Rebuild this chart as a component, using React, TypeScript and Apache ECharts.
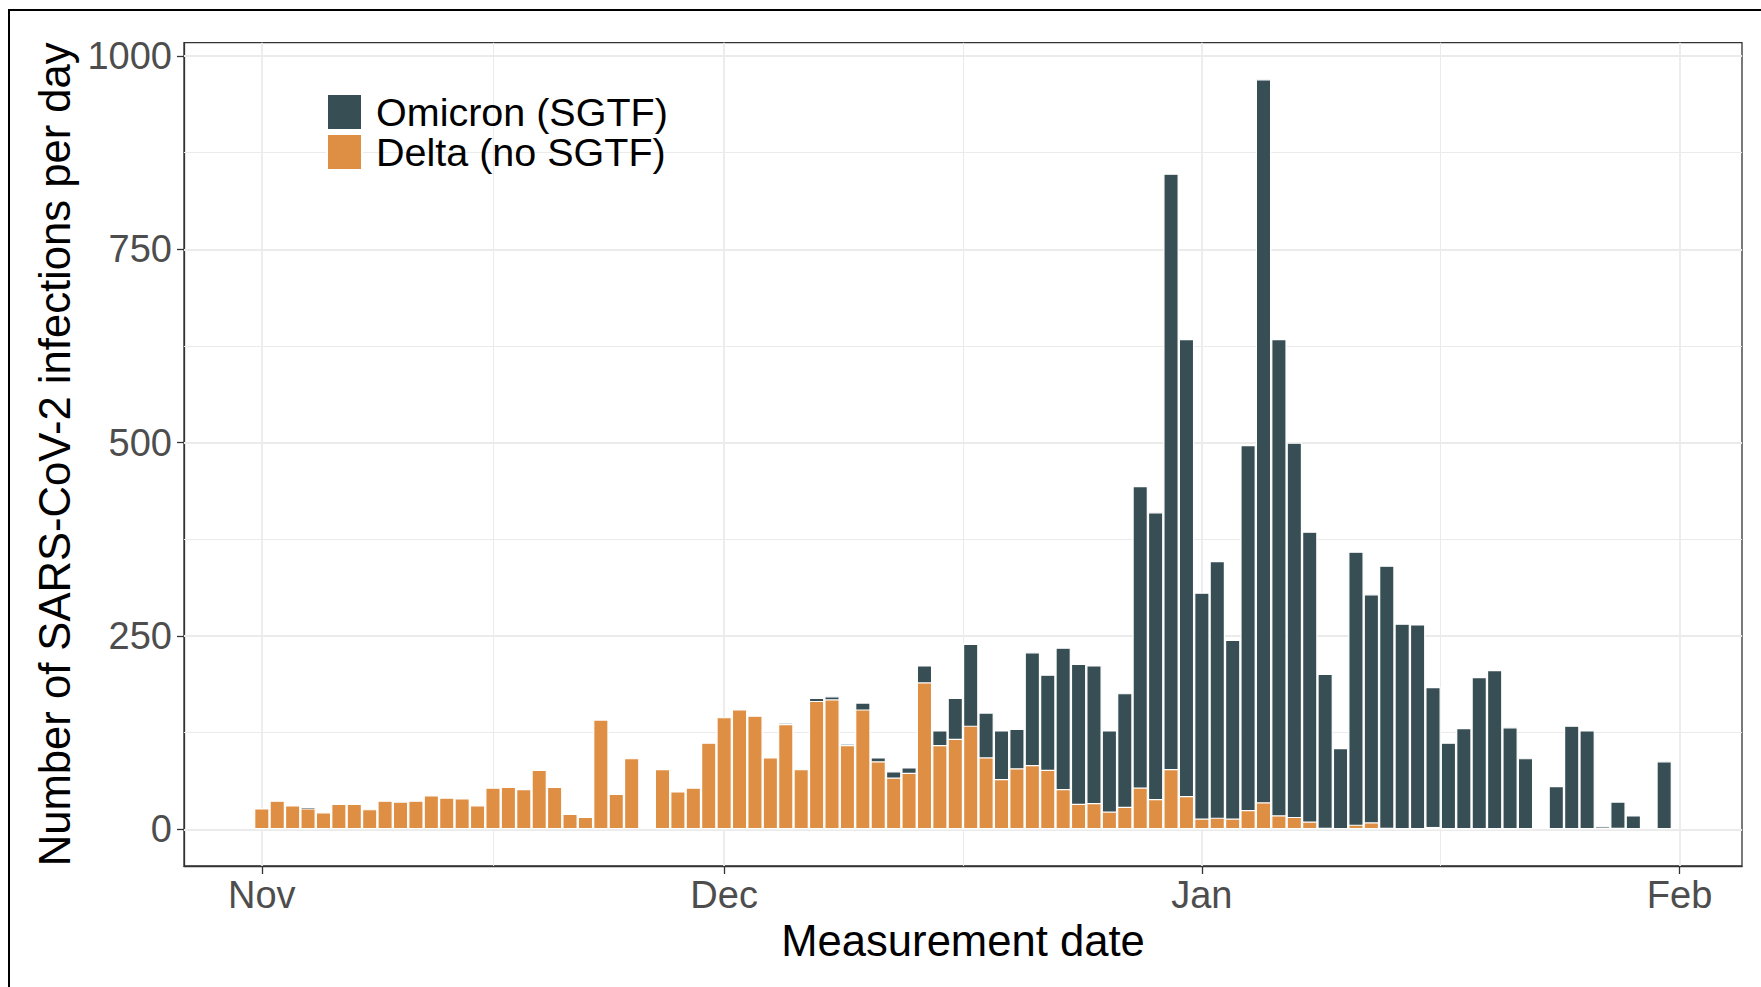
import React, { useEffect, useRef } from 'react';
import * as echarts from 'echarts';

// Measurement dates: day offsets from 2021-11-01 (Nov 1 .. Jan 31)
const START_DATE = '2021-11-01';

// Delta (no SGTF) infections per day
const deltaNov = [27, 37, 31, 27, 22, 33, 33, 26, 37, 36, 37, 44, 41, 40, 31, 54, 55, 52, 77, 55, 20, 16, 142, 46, 92, 0, 78, 49, 54, 112];
const deltaDec = [145, 155, 147, 93, 136, 78, 166, 168, 109, 155, 88, 67, 73, 190, 109, 117, 134, 93, 65, 79, 83, 77, 52, 33, 34, 23, 29, 54, 39, 78, 43];
const deltaJan = [14, 15, 14, 25, 35, 18, 16, 10, 2, 0, 6, 9, 2, 1, 1, 3, 1, 1, 1, 1, 1, 0, 0, 0, 0, 0, 0, 2, 0, 0, 0];

// Omicron (SGTF) infections per day
const omicronNov = [0, 0, 0, 2, 0, 0, 0, 0, 0, 0, 0, 0, 0, 0, 0, 0, 0, 0, 0, 0, 0, 0, 1, 0, 0, 0, 0, 0, 0, 0];
const omicronDec = [0, 0, 0, 0, 2, 0, 4, 4, 2, 9, 5, 8, 7, 22, 19, 53, 106, 58, 63, 51, 146, 123, 183, 181, 178, 105, 147, 390, 371, 770, 591];
const omicronJan = [292, 332, 231, 472, 935, 616, 484, 375, 199, 105, 353, 295, 339, 265, 264, 181, 111, 130, 196, 205, 131, 92, 0, 56, 134, 128, 4, 34, 18, 0, 88];

// Axis ticks
const monthTicks = [0, 30, 61, 92];
const monthLabels = ['Nov', 'Dec', 'Jan', 'Feb'];
const monthMinorTicks = [15, 45.5, 76.5];
const yTicks = [0, 250, 500, 750, 1000];
const yMinorTicks = [125, 375, 625, 875];

const SERIES_OMICRON = 'Omicron (SGTF)';
const SERIES_DELTA = 'Delta (no SGTF)';

const FONT = '"Liberation Sans", Arial, Helvetica, sans-serif';

export default function App() {
  const ref = useRef<HTMLDivElement>(null);

  useEffect(() => {
    if (!ref.current) return;
    const chart = echarts.init(ref.current, undefined, { renderer: 'svg' });

    const delta = [...deltaNov, ...deltaDec, ...deltaJan];
    const omicron = [...omicronNov, ...omicronDec, ...omicronJan];
    const days = delta.map((_, i) => i);
    void START_DATE;

    // stacked layout: Omicron segment sits on top of Delta (drawn as the cumulative top, Delta in front)
    const stackedTop = days.map((d) => delta[d] + omicron[d]);

    const grid = (w: number) => ({ color: '#EBEBEB', width: w, type: 'solid' as const });
    const gridLines = [
      ...yTicks.map((v) => ({ yAxis: v, lineStyle: grid(1.8) })),
      ...yMinorTicks.map((v) => ({ yAxis: v, lineStyle: grid(1) })),
      ...monthTicks.map((v) => ({ xAxis: v, lineStyle: grid(1.8) })),
      ...monthMinorTicks.map((v) => ({ xAxis: v, lineStyle: grid(1) })),
    ];

    const barStyle = (color: string) => ({ color, borderColor: '#ffffff', borderWidth: 1.2 });

    chart.setOption({
      animation: false,
      backgroundColor: '#ffffff',
      textStyle: { fontFamily: FONT },
      grid: {
        left: 184,
        right: 19,
        top: 42.7,
        bottom: 121,
        show: true,
        backgroundColor: '#ffffff',
        borderColor: '#333333',
        borderWidth: 1.3,
        containLabel: false,
      },
      legend: {
        orient: 'vertical',
        left: 326,
        top: 92,
        padding: 0,
        itemWidth: 35,
        itemHeight: 36,
        itemGap: 0,
        icon: 'rect',
        selectedMode: false,
        data: [SERIES_OMICRON, SERIES_DELTA],
        textStyle: { fontSize: 39.5, color: '#000000', fontFamily: FONT, padding: [0, 0, 0, 9] },
      },
      xAxis: {
        type: 'value',
        min: -5.05,
        max: 96.05,
        name: 'Measurement date',
        nameLocation: 'middle',
        nameGap: 38,
        nameTextStyle: { fontSize: 43.6, color: '#000000', fontFamily: FONT },
        axisLine: { show: true, onZero: false, lineStyle: { color: '#333333', width: 1.3 } },
        axisTick: { show: true, length: 8, lineStyle: { color: '#333333', width: 1.3 }, customValues: monthTicks },
        axisLabel: {
          show: true,
          customValues: monthTicks,
          fontSize: 38,
          color: '#4D4D4D',
          fontFamily: FONT,
          margin: 10,
          formatter: (v: number) => {
            const i = monthTicks.indexOf(v);
            return i >= 0 ? monthLabels[i] : '';
          },
        },
        splitLine: { show: false },
        minorSplitLine: { show: false },
      },
      yAxis: {
        type: 'value',
        min: -47.5,
        max: 1017.2,
        name: 'Number of SARS-CoV-2 infections per day',
        nameLocation: 'middle',
        nameGap: 91,
        nameTextStyle: { fontSize: 43.6, color: '#000000', fontFamily: FONT },
        axisLine: { show: true, onZero: false, lineStyle: { color: '#333333', width: 1.3 } },
        axisTick: { show: true, length: 7, lineStyle: { color: '#333333', width: 1.3 }, customValues: yTicks },
        axisLabel: {
          show: true,
          customValues: yTicks,
          fontSize: 38,
          color: '#4D4D4D',
          fontFamily: FONT,
          margin: 12,
          formatter: (v: number) => String(v),
        },
        splitLine: { show: false },
        minorSplitLine: { show: false },
      },
      graphic: [
        {
          type: 'rect',
          silent: true,
          shape: { x: 9, y: 10, width: 1800, height: 1000 },
          style: { fill: 'none', stroke: '#000000', lineWidth: 2 },
          z: 100,
        },
      ],
      series: [
        {
          name: SERIES_OMICRON,
          type: 'bar',
          barWidth: '100%',
          barGap: '-100%',
          z: 2,
          itemStyle: barStyle('#374E55'),
          emphasis: { disabled: true },
          data: days.map((d) => [d, omicron[d] > 0 ? stackedTop[d] : null]),
          markLine: {
            silent: true,
            z: 1,
            symbol: ['none', 'none'],
            label: { show: false },
            emphasis: { disabled: true },
            animation: false,
            data: gridLines,
          },
        },
        {
          name: SERIES_DELTA,
          type: 'bar',
          barWidth: '100%',
          barGap: '-100%',
          z: 3,
          itemStyle: barStyle('#DF8F44'),
          emphasis: { disabled: true },
          data: days.map((d) => [d, delta[d] > 0 ? delta[d] : null]),
        },
      ],
    });

    return () => chart.dispose();
  }, []);

  return (
    <div
      ref={ref}
      style={{ position: 'absolute', left: 0, top: 0, width: '1761px', height: '987px', background: '#ffffff' }}
    />
  );
}
